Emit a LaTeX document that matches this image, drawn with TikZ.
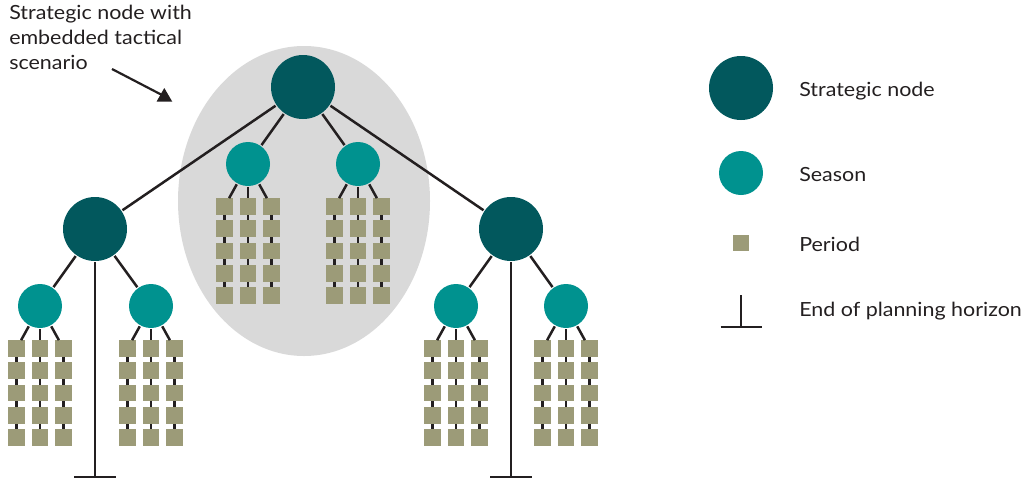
\documentclass[tikz,border=0pt]{standalone}
\usepackage{fontspec}
\setmainfont{Lato}[FakeStretch=1.1]
\definecolor{stratcol}{HTML}{02585D}
\definecolor{seasoncol}{HTML}{00928F}
\definecolor{periodcol}{HTML}{9C9B78}
\definecolor{blobgray}{HTML}{D9D9D9}
\definecolor{inkcol}{HTML}{231F20}

\begin{document}
\begin{tikzpicture}[x=1pt, y=-1pt, color=inkcol, line width=2.5pt,
        strategic/.style={circle, fill=stratcol, minimum size=64pt, inner sep=0pt},
        season/.style={circle, fill=seasoncol, minimum size=44pt, inner sep=0pt},
        period/.style={fill=periodcol, minimum size=16.7pt, inner sep=0pt, outer sep=0pt},
        legendtext/.style={anchor=base west, inner sep=0pt, font=\fontsize{19.5}{23}\selectfont}]
    \useasboundingbox (0,0) rectangle (1024,483);

    % tactical scenario of the root
    \fill[blobgray] (304,201) ellipse [x radius=126, y radius=155];

    \node[strategic] (s0) at (303,87) {};
    \node[strategic] (s1) at (95,229) {};
    \node[strategic] (s2) at (511,229) {};

    \node[season] (t1) at (248,164) {};
    \node[season] (t2) at (358,164) {};
    \node[season] (t3) at (40,306) {};
    \node[season] (t4) at (151,306) {};
    \node[season] (t5) at (456,306) {};
    \node[season] (t6) at (566,306) {};

    \draw (s0) -- (s1);
    \draw (s0) -- (s2);
    \draw (s0) -- (t1);
    \draw (s0) -- (t2);
    \draw (s1) -- (t3);
    \draw (s1) -- (t4);
    \draw (s2) -- (t5);
    \draw (s2) -- (t6);

    % three chains of five periods under every season
    \foreach \t/\x/\y in {t1/248/164, t2/358/164, t3/40/306, t4/151/306, t5/456/306, t6/566/306} {
        \foreach \c/\dx in {1/-23.5, 2/0, 3/23.5} {
            \foreach \r in {1,...,5}
                \node[period] (\t-\c-\r) at ({\x+\dx}, {\y+20.2+22.3*\r}) {};
            \draw (\t) -- (\t-\c-1);
            \foreach \r [evaluate=\r as \q using int(\r+1)] in {1,...,4}
                \draw (\t-\c-\r) -- (\t-\c-\q);
        }
    }

    % end of planning horizon
    \coordinate (h1) at (95,477);
    \coordinate (h2) at (511,477);
    \draw (s1) -- (h1);
    \draw ([xshift=-21pt]h1) -- ([xshift=21pt]h1);
    \draw (s2) -- (h2);
    \draw ([xshift=-21pt]h2) -- ([xshift=21pt]h2);

    % callout
    \node[anchor=north west, inner sep=0pt, align=left, font=\fontsize{19.5}{25}\selectfont] (note) at (8,4)
        {Strategic node with\\embedded tactical\\scenario};
    \coordinate (c0) at (112,69);
    \coordinate (c1) at (162,95);
    \draw[line width=2.2pt] (c0) -- (c1);
    \fill (164.3,88) -- (156.5,101.7) -- (172.3,101.7) -- cycle;

    % legend
    \node[strategic] (ls) at (741,88) {};
    \node[season] (lt) at (741,173) {};
    \node[period] (lp) at (741,243) {};
    \coordinate (lh0) at (741,295);
    \coordinate (lh1) at (741,327);
    \draw (lh0) -- (lh1);
    \draw ([xshift=-20.5pt]lh1) -- ([xshift=20.5pt]lh1);

    \node[legendtext] at (798,96.7) {Strategic node};
    \node[legendtext] at (798,181) {Season};
    \node[legendtext] at (798,251.7) {Period};
    \node[legendtext] at (798,316.7) {End of planning horizon};
\end{tikzpicture}
\end{document}
